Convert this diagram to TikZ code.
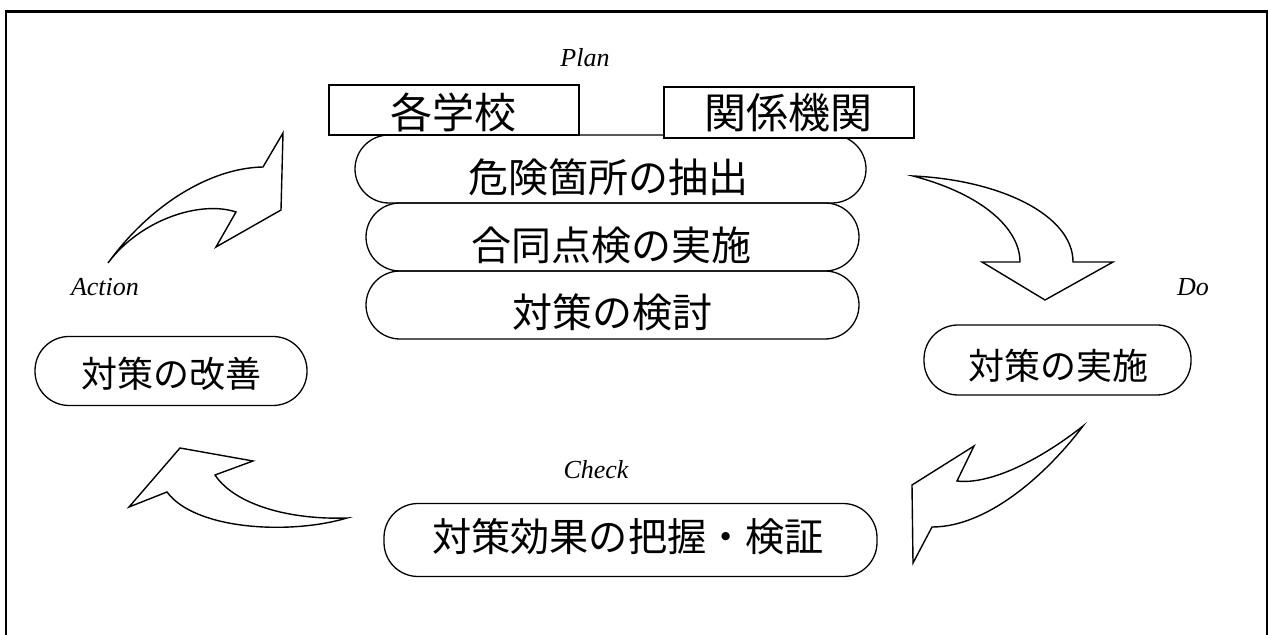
\documentclass[tikz,border=0pt]{standalone}
\usepackage{fontspec}
\setmainfont{Liberation Serif}
\newfontfamily\jp{Noto Sans CJK JP}
\begin{document}
\begin{tikzpicture}[x=0.5pt,y=-0.5pt,
  pill/.style={draw, line width=0.65pt, rounded corners=17pt, inner sep=0pt},
  tagbox/.style={draw, line width=1.1pt, inner sep=0pt, fill=white},
  jbig/.style={font=\jp\fontsize{20}{24}\selectfont, inner sep=0pt},
  jmid/.style={font=\jp\fontsize{18}{22}\selectfont, inner sep=0pt},
  phase/.style={font=\itshape\fontsize{13}{15}\selectfont, inner sep=0pt},
  curvarrow/.style={draw, line width=0.7pt, line join=miter, fill=white}]
\useasboundingbox (0,0) rectangle (1268,635);
% frame
\draw[line width=1.1pt] (5.8,640) -- (5.8,11.5) -- (1266.6,11.5) -- (1266.6,640);

% Plan stack
\node[pill, minimum width=255.5pt, minimum height=34pt] (b1) at (610.5,169) {};
\node[pill, minimum width=246.5pt, minimum height=34pt] (b2) at (612.5,237) {};
\node[pill, minimum width=246.5pt, minimum height=34pt] (b3) at (612.5,305) {};
\node[jbig] (b1t) at (608,177) {危険箇所の抽出};
\node[jbig] (b2t) at (611,245) {合同点検の実施};
\node[jbig] (b3t) at (612,312) {対策の検討};

\node[tagbox, minimum width=125pt, minimum height=25pt] (s1) at (454,110) {};
\node[tagbox, minimum width=125pt, minimum height=25.5pt] (s2) at (789,112.5) {};
\node[jbig, font=\jp\fontsize{21}{24}\selectfont] (s1t) at (453,112) {各学校};
\node[jbig, font=\jp\fontsize{21}{24}\selectfont] (s2t) at (788.5,113) {関係機関};

% side boxes
\node[pill, minimum width=136pt, minimum height=34.5pt] (act) at (171,371) {};
\node[jmid] (actt) at (171,374) {対策の改善};
\node[pill, minimum width=133.5pt, minimum height=35pt] (do) at (1057.5,360) {};
\node[jmid] (dot) at (1058,366) {対策の実施};
\node[pill, minimum width=246.5pt, minimum height=36.5pt] (chk) at (630.5,540) {};
\node[jbig, font=\jp\fontsize{19.6}{24}\selectfont] (chkt) at (628,537) {対策効果の把握・検証};

% phase labels
\node[phase] (lplan) at (585,58) {Plan};
\node[phase] (lact) at (105,287) {Action};
\node[phase] (ldo) at (1193,287) {Do};
\node[phase] (lchk) at (596,470) {Check};

% curved arrows
% Action -> Plan
\draw[curvarrow] (108,263) .. controls (150,205) and (210,168) .. (263,167)
  -- (283,133) -- (281,210) -- (216,247) -- (236,212)
  .. controls (200,200) and (140,220) .. cycle;
% Plan -> Do
\draw[curvarrow] (913,176) .. controls (985,195) and (1020,230) .. (1020,262)
  -- (982,262) -- (1045,300) -- (1113,262) -- (1073,262)
  .. controls (1073,215) and (1000,180) .. cycle;
% Do -> Check
\draw[curvarrow] (1083,426) .. controls (1040,460) and (990,485) .. (957,481)
  -- (974,446) -- (912,485) -- (913,563) -- (932,527)
  .. controls (990,527) and (1050,470) .. cycle;
% Check -> Action
\draw[curvarrow] (347,518) .. controls (290,520) and (235,505) .. (215,475)
  -- (253,461) -- (180,448) -- (129,507) -- (167,492)
  .. controls (195,530) and (290,535) .. cycle;
\end{tikzpicture}
\end{document}
